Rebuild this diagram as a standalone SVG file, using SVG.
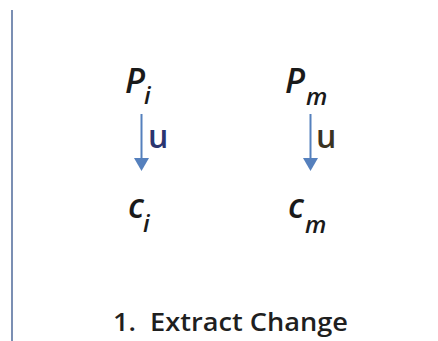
<svg xmlns="http://www.w3.org/2000/svg" width="438" height="341" viewBox="0 0 438 341">
<style>
.m{font-family:"Open Sans","Liberation Sans",sans-serif;font-style:italic;font-weight:600;fill:#1a1a1a}
.b{font-size:34px}
.s{font-size:24px}
.u{font-family:"Open Sans","Liberation Sans",sans-serif;font-size:32px;font-weight:600}
.lbl{font-family:"Open Sans","Liberation Sans",sans-serif;font-size:26px;font-weight:600;fill:#1f1f1f}
.ar{stroke:#5580bd;stroke-width:2;fill:none}
.hd{fill:#5580bd}
</style>
<rect width="438" height="341" fill="#ffffff"/>
<line x1="12" y1="10" x2="12" y2="341" stroke="#7b8fb3" stroke-width="2"/>
<g id="Pi"><text class="m b" x="125" y="93">P</text><text class="m s" x="144" y="104">i</text></g>
<g id="Pm"><text class="m b" x="285" y="93">P</text><text class="m s" x="306" y="105">m</text></g>
<g id="ci"><text class="m b" x="128" y="218">c</text><text class="m s" x="143" y="232">i</text></g>
<g id="cm"><text class="m b" x="288" y="218">c</text><text class="m s" x="305" y="233">m</text></g>
<g id="connectors">
<line class="ar" x1="141.5" y1="114" x2="141.5" y2="159"/>
<polygon class="hd" points="134,158 149,158 141.5,171"/>
<text class="u" x="148" y="148" fill="#2b3570">u</text>
<line class="ar" x1="310.5" y1="114" x2="310.5" y2="159"/>
<polygon class="hd" points="303,158 318,158 310.5,171"/>
<text class="u" x="316" y="148" fill="#3a3322">u</text>
</g>
<g id="label"><text class="lbl" x="113" y="331" textLength="235" lengthAdjust="spacingAndGlyphs" xml:space="preserve">1.  Extract Change</text></g>
</svg>
